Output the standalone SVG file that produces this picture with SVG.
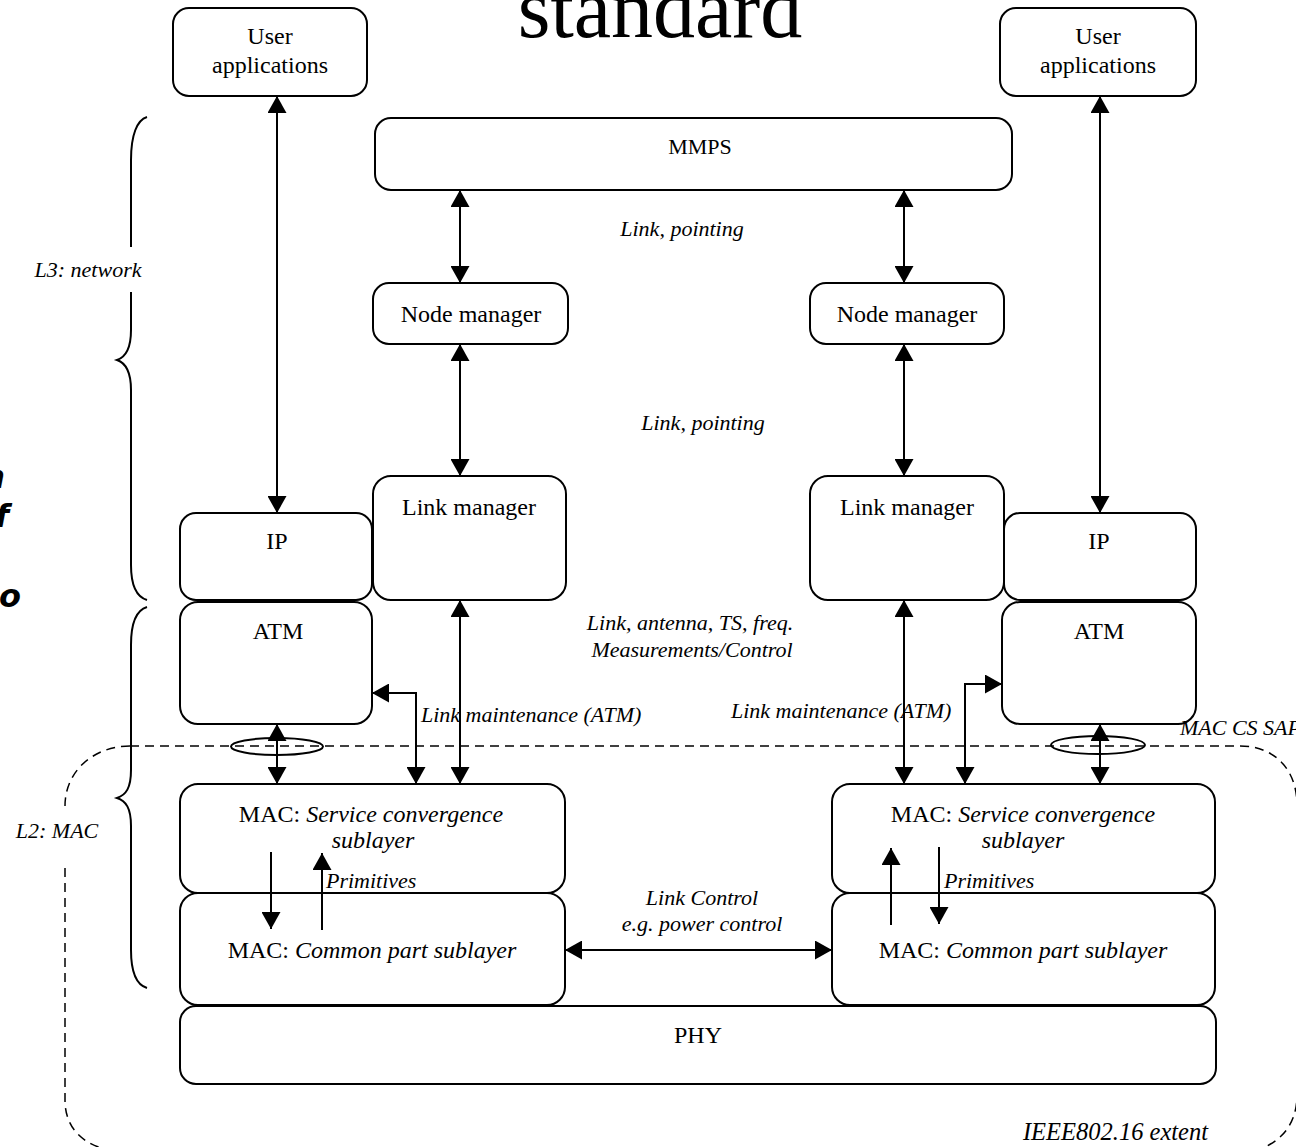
<svg xmlns="http://www.w3.org/2000/svg" width="1296" height="1147" viewBox="0 0 1296 1147">
<style>
.box{fill:#fff;stroke:#000;stroke-width:2}
.t{font-family:"Liberation Serif","Times New Roman",serif;font-size:24px;fill:#000;text-anchor:middle}
.i{font-family:"Liberation Serif","Times New Roman",serif;font-size:22px;font-style:italic;fill:#000}
.c{text-anchor:middle}
.ln{fill:none;stroke:#000;stroke-width:2}
.dash{fill:none;stroke:#000;stroke-width:1.5;stroke-dasharray:9 6}
.frag{font-family:"DejaVu Sans",Verdana,sans-serif;font-size:32px;font-weight:bold;font-style:italic;fill:#000;text-anchor:end}
</style>
<defs>
<marker id="ah" viewBox="0 0 17 19" refX="17" refY="9.5" markerWidth="17" markerHeight="19" markerUnits="userSpaceOnUse" orient="auto-start-reverse">
<path d="M0,0 L17,9.5 L0,19 z" fill="#000"/>
</marker>
</defs>
<rect width="1296" height="1147" fill="#fff"/>

<text x="660" y="37" font-family="Liberation Serif,Times New Roman,serif" font-size="84" text-anchor="middle">standard</text>

<g id="fragments">
<text class="frag" x="5" y="488">n</text>
<text class="frag" x="9" y="527">f</text>
<text class="frag" x="21" y="607">o</text>
</g>

<g id="extent">
<path class="dash" d="M130,746 L1240,746 C1275,746 1297,770 1297,805 L1297,1095 C1297,1125 1280,1145 1250,1152"/>
<path class="dash" d="M130,746 C95,746 65,770 65,806"/>
<path class="dash" d="M65,868 L65,1100 C65,1130 85,1147 118,1152"/>
</g>

<g id="brackets">
<path class="ln" d="M147,117 C137,120 131,135 131,160 L131,247 M131,292 L131,330 C131,348 126,357 117,360 C126,363 131,372 131,390 L131,565 C131,585 137,597 147,600"/>
<path class="ln" d="M147,607 C137,610 131,622 131,645 L131,770 C131,788 126,795 117,798 C126,801 131,808 131,826 L131,950 C131,972 137,985 147,988"/>
<text class="i c" x="88" y="277">L3: network</text>
<text class="i c" x="57" y="838">L2: MAC</text>
</g>

<g id="ua-left"><rect class="box" x="173" y="8" width="194" height="88" rx="16"/><text class="t" x="270" y="44">User</text><text class="t" x="270" y="73">applications</text></g>
<g id="ua-right"><rect class="box" x="1000" y="8" width="196" height="88" rx="16"/><text class="t" x="1098" y="44">User</text><text class="t" x="1098" y="73">applications</text></g>
<g id="mmps"><rect class="box" x="375" y="118" width="637" height="72" rx="16"/><text class="t" x="700" y="154" style="font-size:22px">MMPS</text></g>
<g id="nm-left"><rect class="box" x="373" y="283" width="195" height="61" rx="16"/><text class="t" x="471" y="322">Node manager</text></g>
<g id="nm-right"><rect class="box" x="810" y="283" width="194" height="61" rx="16"/><text class="t" x="907" y="322">Node manager</text></g>
<g id="lm-left"><rect class="box" x="373" y="476" width="193" height="124" rx="18"/><text class="t" x="469" y="515">Link manager</text></g>
<g id="lm-right"><rect class="box" x="810" y="476" width="194" height="124" rx="18"/><text class="t" x="907" y="515">Link manager</text></g>
<g id="ip-left"><rect class="box" x="180" y="513" width="192" height="87" rx="16"/><text class="t" x="277" y="549">IP</text></g>
<g id="ip-right"><rect class="box" x="1004" y="513" width="192" height="87" rx="16"/><text class="t" x="1099" y="549">IP</text></g>
<g id="atm-left"><rect class="box" x="180" y="602" width="192" height="122" rx="18"/><text class="t" x="278" y="639">ATM</text></g>
<g id="atm-right"><rect class="box" x="1002" y="602" width="194" height="122" rx="18"/><text class="t" x="1099" y="639">ATM</text></g>
<g id="sc-left"><rect class="box" x="180" y="784" width="385" height="109" rx="18"/><text class="t" x="371" y="822">MAC: <tspan font-style="italic">Service convergence</tspan></text><text class="t" x="373" y="848" font-style="italic">sublayer</text></g>
<g id="sc-right"><rect class="box" x="832" y="784" width="383" height="109" rx="18"/><text class="t" x="1023" y="822">MAC: <tspan font-style="italic">Service convergence</tspan></text><text class="t" x="1023" y="848" font-style="italic">sublayer</text></g>
<g id="cp-left"><rect class="box" x="180" y="893" width="385" height="112" rx="18"/><text class="t" x="372" y="958">MAC: <tspan font-style="italic">Common part sublayer</tspan></text></g>
<g id="cp-right"><rect class="box" x="832" y="893" width="383" height="112" rx="18"/><text class="t" x="1023" y="958">MAC: <tspan font-style="italic">Common part sublayer</tspan></text></g>
<g id="phy"><rect class="box" x="180" y="1006" width="1036" height="78" rx="16"/><text class="t" x="698" y="1043">PHY</text></g>

<g id="saps">
<ellipse cx="277" cy="746.5" rx="46" ry="8.5" fill="none" stroke="#000" stroke-width="2"/>
<ellipse cx="1098" cy="745" rx="47" ry="9" fill="none" stroke="#000" stroke-width="2"/>
</g>

<g id="connectors" class="ln">
<path d="M277,96 L277,513" marker-start="url(#ah)" marker-end="url(#ah)"/>
<path d="M1100,96 L1100,513" marker-start="url(#ah)" marker-end="url(#ah)"/>
<path d="M460,190 L460,283" marker-start="url(#ah)" marker-end="url(#ah)"/>
<path d="M904,190 L904,283" marker-start="url(#ah)" marker-end="url(#ah)"/>
<path d="M460,344 L460,476" marker-start="url(#ah)" marker-end="url(#ah)"/>
<path d="M904,344 L904,476" marker-start="url(#ah)" marker-end="url(#ah)"/>
<path d="M460,600 L460,784" marker-start="url(#ah)" marker-end="url(#ah)"/>
<path d="M904,600 L904,784" marker-start="url(#ah)" marker-end="url(#ah)"/>
<path d="M277,724 L277,784" marker-start="url(#ah)" marker-end="url(#ah)"/>
<path d="M1100,724 L1100,784" marker-start="url(#ah)" marker-end="url(#ah)"/>
<path d="M416,784 L416,693 L372,693" marker-start="url(#ah)" marker-end="url(#ah)"/>
<path d="M965,784 L965,684 L1002,684" marker-start="url(#ah)" marker-end="url(#ah)"/>
<path d="M271,852 L271,929" marker-end="url(#ah)"/>
<path d="M322,930 L322,853" marker-end="url(#ah)"/>
<path d="M891,925 L891,848" marker-end="url(#ah)"/>
<path d="M939,847 L939,924" marker-end="url(#ah)"/>
<path d="M565,950 L832,950" marker-start="url(#ah)" marker-end="url(#ah)"/>
</g>

<g id="labels">
<text class="i c" x="682" y="236">Link, pointing</text>
<text class="i c" x="703" y="430">Link, pointing</text>
<text class="i c" x="690" y="630">Link, antenna, TS, freq.</text>
<text class="i c" x="692" y="657">Measurements/Control</text>
<text class="i" x="421" y="722">Link maintenance (ATM)</text>
<text class="i" x="731" y="718">Link maintenance (ATM)</text>
<text class="i" x="326" y="888">Primitives</text>
<text class="i" x="944" y="888">Primitives</text>
<text class="i c" x="702" y="905">Link Control</text>
<text class="i c" x="702" y="931">e.g. power control</text>
<text class="i" x="1180" y="735">MAC CS SAP</text>
<text class="i" x="1208" y="1140" text-anchor="end" style="font-size:24.5px">IEEE802.16 extent</text>
</g>
</svg>
